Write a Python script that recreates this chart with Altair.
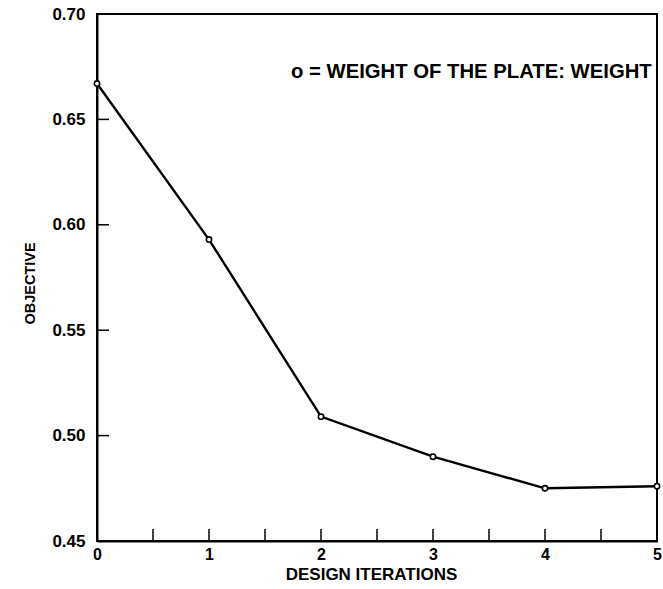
import altair as alt
import pandas as pd

iterations = [0, 1, 2, 3, 4, 5]
objective = [0.667, 0.593, 0.509, 0.490, 0.475, 0.476]

x_tick_values = [0.5, 1, 1.5, 2, 2.5, 3, 3.5, 4, 4.5]
y_tick_values = [0.50, 0.55, 0.60, 0.65]
x_label_values = [0, 1, 2, 3, 4, 5]
y_label_values = [0.45, 0.50, 0.55, 0.60, 0.65, 0.70]

legend_text = "o = WEIGHT OF THE PLATE: WEIGHT"

FONT = "Liberation Sans"
W, H = 560, 527

df = pd.DataFrame({"iter": iterations, "obj": objective})
xt = pd.DataFrame({"v": x_tick_values})
yt = pd.DataFrame({"v": y_tick_values})

xscale = alt.Scale(domain=[0, 5], nice=False, zero=False)
yscale = alt.Scale(domain=[0.45, 0.70], nice=False, zero=False)

xaxis = alt.Axis(values=x_label_values, format="d", ticks=False, grid=False,
                 title="DESIGN ITERATIONS", labelFont=FONT, labelFontSize=16,
                 labelFontWeight="bold", labelColor="black", labelPadding=5,
                 labelFlush=False, titleFont=FONT, titleFontSize=17,
                 titleFontWeight="bold", titleColor="black", titlePadding=4,
                 titleX=274, titleAnchor="middle",
                 domainColor="black", domainWidth=2)
yaxis = alt.Axis(values=y_label_values, format=".2f", ticks=False, grid=False,
                 title="OBJECTIVE", labelFont=FONT, labelFontSize=17,
                 labelFontWeight="bold", labelColor="black", labelPadding=12,
                 labelFlush=False, titleFont=FONT, titleFontSize=14.5,
                 titleFontWeight="bold", titleColor="black", titlePadding=14,
                 titleY=269, titleAnchor="middle",
                 domainColor="black", domainWidth=2)

line = alt.Chart(df).mark_line(color="black", strokeWidth=2.4).encode(
    x=alt.X("iter:Q", scale=xscale, axis=xaxis),
    y=alt.Y("obj:Q", scale=yscale, axis=yaxis),
)
pts = alt.Chart(df).mark_point(shape="circle", size=28, filled=True, fill="white",
                               stroke="black", strokeWidth=1.6, opacity=1).encode(
    x=alt.X("iter:Q", scale=xscale),
    y=alt.Y("obj:Q", scale=yscale),
)
xticks = alt.Chart(xt).mark_rule(color="black", strokeWidth=1.5).encode(
    x=alt.X("v:Q", scale=xscale),
    y=alt.value(H),
    y2=alt.value(H - 12),
)
yticks = alt.Chart(yt).mark_rule(color="black", strokeWidth=1.5).encode(
    y=alt.Y("v:Q", scale=yscale),
    x=alt.value(0),
    x2=alt.value(12),
)
label = alt.Chart(pd.DataFrame({"t": [legend_text]})).mark_text(
    align="left", baseline="middle", font=FONT, fontSize=20.3, fontWeight="bold",
    color="black").encode(
    text="t:N", x=alt.value(194), y=alt.value(58))

chart = alt.layer(line, pts, xticks, yticks, label).properties(
    width=W, height=H,
    autosize=alt.AutoSizeParams(type="none"),
    padding={"left": 97, "top": 14, "right": 6, "bottom": 48},
    background="white",
).configure_view(stroke="black", strokeWidth=2)

chart.save("out.html", embed_options={"renderer": "svg", "actions": False})
